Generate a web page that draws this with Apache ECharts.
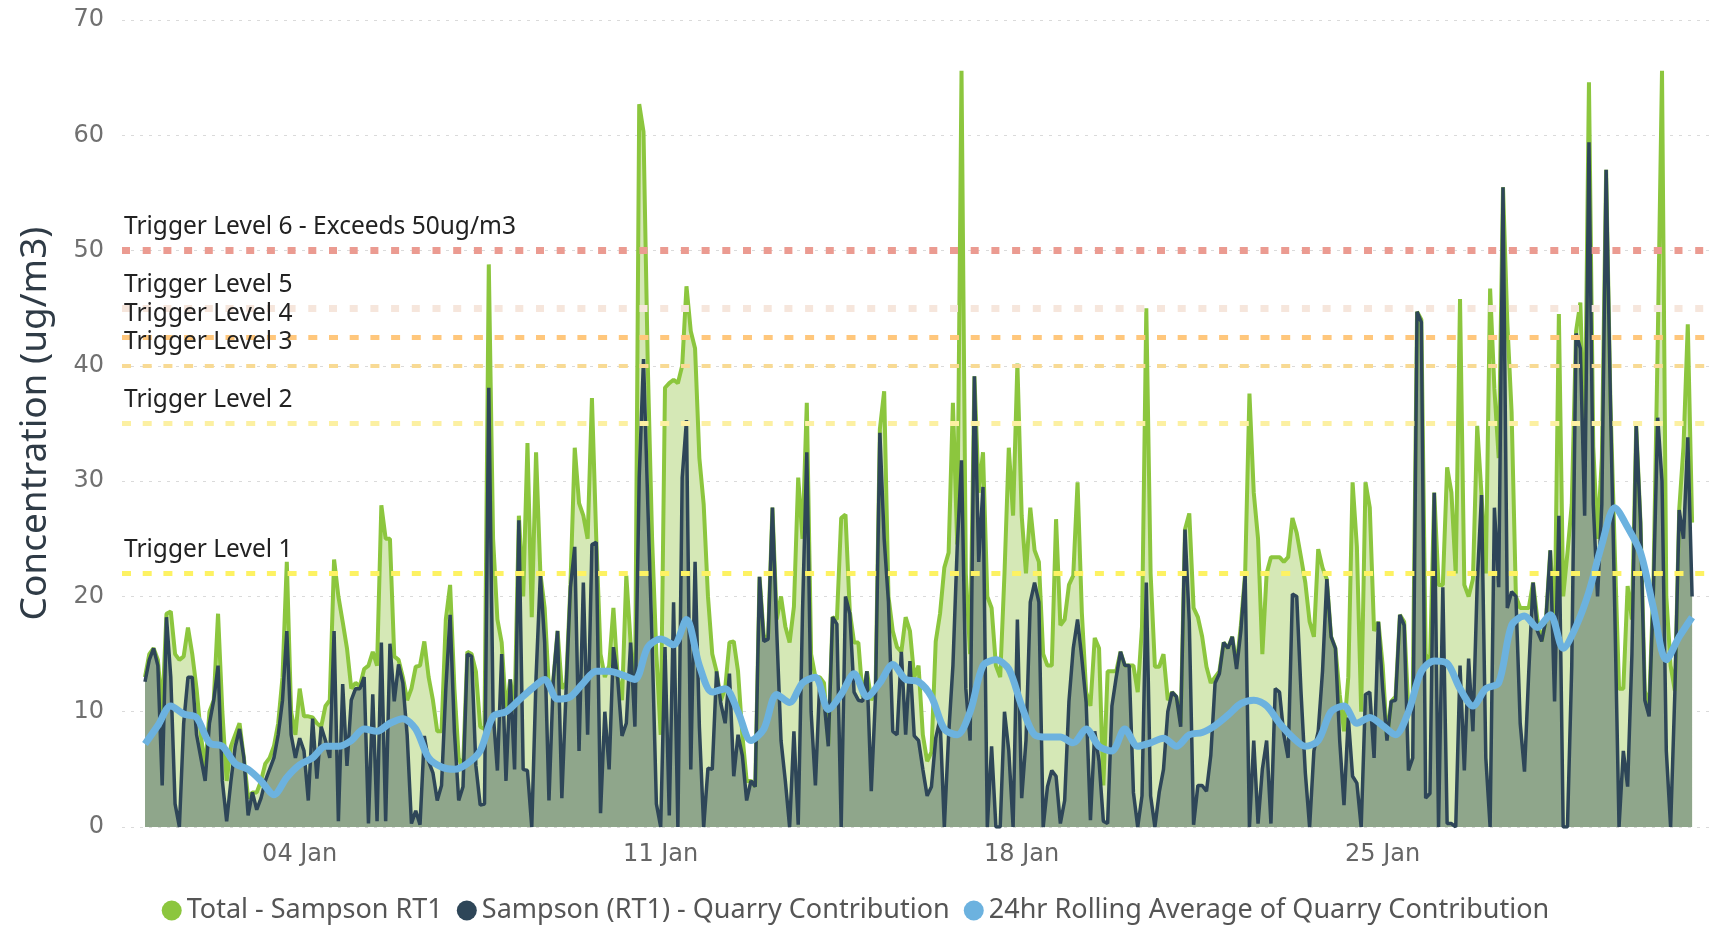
<!DOCTYPE html>
<html>
<head>
<meta charset="utf-8">
<title>Sampson RT1</title>
<script src="https://cdn.jsdelivr.net/npm/echarts@6/dist/echarts.min.js"></script>
<style>html,body{margin:0;padding:0;background:#fff}</style>
</head>
<body>
<div id="chart" style="width:1711px;height:926px"></div>
<script>
// two-hourly readings from 01 Jan 00:00, rolling average six-hourly
const total = [
  13, 15, 15.5, 14.5, 10, 18.5, 18.7, 15, 14.5, 14.8, 17.3, 15, 12, 8, 5, 10, 11, 18.5, 10, 4, 7, 8, 9, 6, 2.5, 3, 3, 4, 5.5, 6, 7, 9, 13, 23, 10, 8,
  12, 9.6, 9.6, 9.5, 9, 8.7, 10.5, 11, 23.2, 20, 17.8, 15.5, 12, 12.5, 12.2, 13.7, 14, 15.2, 14, 27.9, 25, 25, 14.8, 14.5, 13, 11, 12, 13.9, 14, 16.1, 13, 11, 8.3, 8.3, 18, 21,
  12, 6, 5, 15.2, 15, 13.5, 8.7, 8.5, 48.8, 25, 18, 16, 10, 12.8, 10, 27, 20, 33.3, 18.2, 32.5, 22, 19, 12, 12.7, 17, 12, 12.5, 21, 32.9, 28.1, 27, 25, 37.2, 25.1, 15, 13,
  14, 19, 13, 11, 21.8, 16, 10, 62.7, 60.3, 40, 25, 15, 8, 38.1, 38.5, 38.8, 38.5, 40, 46.9, 43, 41.5, 32, 28, 20, 15, 13.5, 11, 12, 16, 16.1, 13.5, 8, 4, 4, 3.5, 21.7,
  16.5, 16.5, 27.7, 18, 20, 17.4, 16, 19.1, 30.3, 25, 36.8, 15, 13, 13, 12.5, 7.2, 18.2, 18, 26.8, 27.1, 18.7, 16, 16, 11.3, 13.5, 11, 12, 34.5, 37.8, 20, 17, 15.6, 15.2, 18.2, 17, 13,
  14, 8, 5.7, 6.5, 16.1, 18.5, 22.5, 23.8, 36.8, 24.5, 65.6, 22, 15, 39.1, 29, 32.5, 20, 19, 14, 13, 22, 32.9, 27, 40.2, 27, 22, 27.7, 24, 23, 15, 14, 14, 26.7, 17.5, 18, 21,
  21.8, 29.9, 18.6, 11.7, 10.5, 16.4, 15.5, 3.6, 13.5, 13.5, 13.5, 15.2, 14, 14, 14, 11.7, 17.4, 45, 22, 13.9, 13.9, 15, 11, 11.7, 11.3, 9, 25.8, 27.2, 19, 18.2, 16.5, 13.9, 12.5, 13, 13.5, 16,
  15.5, 16.5, 14, 17.5, 22, 37.6, 29, 25, 15, 22, 23.4, 23.4, 23.4, 23, 23.4, 26.8, 25.5, 23.4, 21.2, 17.8, 16.5, 24.1, 22.5, 21.5, 16.5, 15.5, 11.5, 8.3, 13, 29.9, 24.3, 10, 29.9, 27.7, 17, 17.8,
  14, 7.6, 10.9, 11.3, 18.4, 17.8, 10, 11.3, 44.7, 44, 15, 14, 29, 21, 21, 31.2, 29, 22, 45.8, 21, 20, 21.5, 34.8, 28.8, 22, 46.7, 38, 32, 55.5, 43.8, 36, 20, 19, 19, 19, 21.2,
  18, 16.1, 18, 24, 17, 44.5, 20, 23.8, 28, 43, 45.5, 32.5, 64.6, 33, 25, 32, 57, 36.8, 24, 12, 12, 20.9, 18, 34.8, 26.4, 11.8, 10.5, 21, 42, 65.6, 20, 14, 11.8, 27.5, 33, 43.6, 26.4
]
const quarry = [
  12.6, 14.5, 15.5, 14, 3.6, 18.2, 13, 2, 0, 9, 13, 13, 8, 6, 4, 9, 11, 14, 4, 0.5, 4, 7, 8.5, 6, 1, 3, 1.5, 2.5, 4, 5, 6, 8, 11, 17, 8, 6,
  7.7, 6.6, 2.3, 9.4, 4.2, 8.7, 7.5, 6, 17, 0.5, 12.4, 5.3, 11, 12, 12, 13, 0.3, 11.5, 0.5, 16, 0.5, 15.9, 10.9, 14.1, 12.5, 8, 0.3, 1.4, 0.2, 7.9, 5.7, 4.7, 2.3, 3.6, 12, 18.4,
  8.3, 2.3, 3.5, 15, 14.8, 5.3, 1.9, 2, 38.1, 10, 4.9, 15, 4, 12.8, 5, 26.6, 5, 4.9, 0, 13, 21.9, 16, 2.3, 12.7, 17, 2.5, 12, 20.8, 24.3, 6.6, 21.2, 8, 24.5, 24.7, 1.2, 10,
  5, 15.6, 12.8, 7.9, 9, 16, 8.7, 30.3, 40.6, 28, 16, 2, 0, 15.6, 1, 19.5, 0, 30.3, 35.3, 5, 23, 8.7, 0, 5.1, 5, 13.5, 10.7, 9, 13.3, 4.4, 8, 6.2, 2.3, 4, 3.5, 21.7,
  16.1, 16.3, 27.7, 17, 7.5, 4, 0, 8.3, 0.2, 18.7, 32.5, 10, 3.6, 12.5, 11, 7, 18.2, 17.6, 0, 20, 18.5, 11.7, 11, 10.9, 13.5, 3.1, 11.5, 34.2, 25, 19.5, 8.3, 8, 15.2, 8, 14.4, 7.9,
  7.5, 5, 2.7, 3.5, 7.7, 9.4, 0, 8, 14, 24.3, 31.8, 12, 7.5, 39.1, 23, 29.5, 0, 7, 0, 0, 10, 6.6, 0, 18, 2.5, 7.5, 19.5, 21.2, 19.5, 0, 3.5, 4.9, 4.4, 0.3, 2.3, 10.9,
  15.5, 18, 14.6, 10.8, 0.6, 8.3, 5.7, 0.5, 0.3, 10.5, 13, 15.2, 14, 14, 3, 0, 2.7, 21.2, 2.7, 0, 3, 5, 10, 11.7, 11.3, 8.7, 25.8, 17.8, 0.2, 3.6, 3.6, 3.1, 6.2, 12.5, 13.3, 16,
  15.5, 16.5, 13.7, 17, 21.9, 0, 7.5, 0.3, 5, 7.5, 0.3, 12, 11.7, 8, 6, 20.2, 20, 11.7, 4.7, 0, 6.6, 8.3, 13.5, 21.5, 16.5, 15.5, 7.5, 1.9, 9.5, 4.4, 3.8, 0, 11.5, 11.7, 6, 17.8,
  12, 7.5, 10.9, 11, 18.4, 17.5, 4.9, 6, 44.7, 43.8, 2.5, 2.9, 29, 0, 20.8, 0.3, 0.3, 0, 14, 4.9, 14.6, 8.3, 21.2, 28.8, 6, 0, 27.7, 20.8, 55.5, 19, 20.4, 20, 9, 4.8, 13.5, 21.2,
  17, 16.1, 18, 24, 10.9, 27, 0, 0, 14, 42.8, 41.5, 27, 59.4, 28, 20, 28, 57, 36.8, 19, 0, 6.6, 3.5, 15, 34.8, 26.4, 11, 9.6, 20.5, 35.5, 30, 6.6, 0, 11.8, 27.5, 25, 33.8, 20
]
const rolling = [
  7.2, 8.8, 10.5, 9.8, 9.5, 7.3, 7, 5.5, 5, 4, 2.8, 4.3,
  5.4, 6, 7, 7, 7.5, 8.5, 8.3, 9, 9.4, 8.5, 6, 5.2,
  5, 5.5, 6.6, 9.6, 10, 11, 12, 12.8, 11.1, 11.3, 12.5, 13.5,
  13.5, 13.2, 12.8, 15.6, 16.3, 15.8, 18, 14, 11.7, 12, 10, 7.5,
  8.5, 11.5, 10.8, 12.5, 13, 10.2, 11.5, 13.3, 11.3, 12.5, 14.1, 12.8,
  12.6, 11.3, 8.5, 8, 10, 14, 14.5, 13.7, 10.5, 8, 7.8, 7.8,
  7.3, 8.5, 7, 6.6, 8.5, 7, 7.3, 7.7, 7, 8, 8.2, 8.8,
  9.7, 10.7, 11, 10.5, 9, 7.8, 7, 7.5, 10, 10.5, 9, 9.5,
  8.8, 8, 10, 13.5, 14.4, 14.2, 12, 10.5, 12, 12.5, 17.5, 18.3,
  17.3, 18.4, 15.5, 17.4, 20.4, 24.5, 27.7, 26, 23.8, 19, 14.5, 16.5, 18.2
]
const seriesNames = ['Total - Sampson RT1', 'Sampson (RT1) - Quarry Contribution', '24hr Rolling Average of Quarry Contribution']
const triggerLevels = [50, 45, 42.5, 40, 35, 22]
const triggerNames = ['Trigger Level 6 - Exceeds 50ug/m3', 'Trigger Level 5', 'Trigger Level 4', 'Trigger Level 3', 'Trigger Level 2', 'Trigger Level 1']
const tickDays = [4, 11, 18, 25]   // January
const month = 'Jan'

// x is hours since 01 Jan 00:00
const pairs = (arr, step) => arr.map((v, i) => [i * step, v])

const triggerStyle = [
  { color: '#eb9b91', width: 7, type: [8, 12.7] },
  { color: '#f6e6dc', width: 7, type: [8, 12.7] },
  { color: '#ffc77c', width: 5, type: [9, 11.7] },
  { color: '#f8da94', width: 4, type: [9, 11.7] },
  { color: '#fcf0a2', width: 5, type: [9, 11.7] },
  { color: '#fdf263', width: 5, type: [9, 11.7] }
]
const font = 'Noto Sans'

const chart = echarts.init(document.getElementById('chart'))
chart.setOption({
  animation: false,
  backgroundColor: '#fff',
  grid: { left: 122, right: 0, top: 20, bottom: 99, outerBoundsMode: 'none' },
  legend: {
    top: 892,
    left: 'center',
    icon: 'circle',
    itemWidth: 20,
    itemHeight: 20,
    itemGap: 14,
    textStyle: { fontSize: 27, color: '#555', fontFamily: font },
    data: seriesNames
  },
  xAxis: {
    type: 'value',
    min: -10.7,
    max: 728.8,
    axisLine: { show: false },
    axisTick: { show: false },
    splitLine: { show: false },
    axisLabel: {
      customValues: tickDays.map(d => (d - 1) * 24),
      formatter: v => String(Math.round(v / 24) + 1).padStart(2, '0') + ' ' + month,
      color: '#666',
      fontSize: 24,
      fontFamily: 'DejaVu Sans',
      margin: 16
    }
  },
  yAxis: {
    type: 'value',
    min: 0,
    max: 70,
    interval: 10,
    name: 'Concentration (ug/m3)',
    nameLocation: 'middle',
    nameGap: 68,
    nameTextStyle: { fontSize: 37, color: '#2f3b46', fontFamily: font },
    axisLine: { show: false },
    axisTick: { show: false },
    axisLabel: { color: '#707070', fontSize: 24, fontFamily: 'DejaVu Sans', margin: 18 },
    splitLine: { lineStyle: { color: '#dadada', type: [3, 6], width: 1 } }
  },
  series: [
    {
      name: seriesNames[0],
      type: 'line',
      data: pairs(total, 2),
      showSymbol: false,
      color: '#8cc63e',
      lineStyle: { color: '#8cc63e', width: 4 },
      areaStyle: { color: '#d5e8b6', opacity: 1 },
      markLine: {
        silent: true,
        symbol: ['none', 'none'],
        data: triggerLevels.map((v, i) => ({
          yAxis: v,
          lineStyle: triggerStyle[i],
          label: {
            show: true,
            formatter: triggerNames[i],
            position: 'insideStartTop',
            distance: [2, 11],
            color: '#222',
            fontSize: 24.5,
            fontFamily: font
          }
        }))
      }
    },
    {
      name: seriesNames[1],
      type: 'line',
      data: pairs(quarry, 2),
      showSymbol: false,
      color: '#2e4658',
      lineStyle: { color: '#2e4658', width: 3.5 },
      areaStyle: { color: '#8fa68b', opacity: 1 }
    },
    {
      name: seriesNames[2],
      type: 'line',
      data: pairs(rolling, 6),
      showSymbol: false,
      smooth: 0.3,
      color: '#6cb2df',
      lineStyle: { color: '#6cb2df', width: 7 }
    }
  ]
})
</script>
</body>
</html>
